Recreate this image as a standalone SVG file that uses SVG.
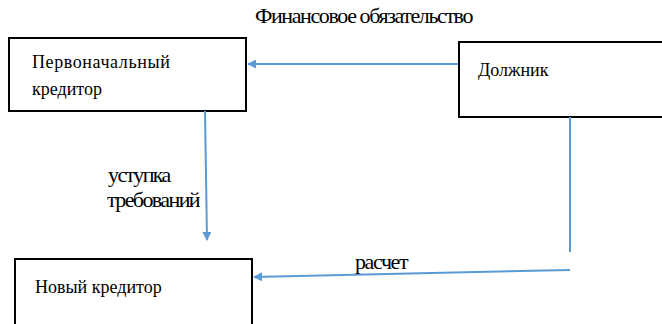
<svg xmlns="http://www.w3.org/2000/svg" width="662" height="324" viewBox="0 0 662 324">
<style>
.box{fill:#fff;stroke:#000;stroke-width:2}
.c{stroke:#5b9bd5;stroke-width:2;fill:none}
</style>
<defs>
<marker id="ah" viewBox="0 0 10 10" refX="9" refY="5" markerWidth="4.5" markerHeight="4.5" orient="auto" markerUnits="strokeWidth">
<path d="M0,0 L10,5 L0,10 Z" fill="#5b9bd5"/>
</marker>
</defs>
<rect width="662" height="324" fill="#fff"/>
<g id="n1">
<rect class="box" x="9" y="38" width="237" height="73"/>
<text x="32" y="68" font-family="Liberation Serif" font-size="18" letter-spacing="0.6">Первоначальный</text>
<text x="32" y="95" font-family="Liberation Serif" font-size="18">кредитор</text>
</g>
<g id="n2">
<rect class="box" x="459" y="42" width="210" height="75"/>
<text x="478" y="76" font-family="Liberation Serif" font-size="18">Должник</text>
</g>
<g id="n3">
<rect class="box" x="15" y="259" width="237" height="70"/>
<text x="35" y="293" font-family="Liberation Serif" font-size="18">Новый кредитор</text>
</g>
<g id="connectors">
<line class="c" x1="458" y1="64" x2="248" y2="64" marker-end="url(#ah)"/>
<line class="c" x1="205" y1="111" x2="207" y2="240" marker-end="url(#ah)"/>
<line class="c" x1="570" y1="117" x2="570" y2="252"/>
<line class="c" x1="570" y1="270" x2="254" y2="277" marker-end="url(#ah)"/>
</g>
<g id="labels">
<text x="255" y="23" font-family="Liberation Serif" font-size="22" letter-spacing="-1.4">Финансовое обязательство</text>
<text x="108" y="182" font-family="Liberation Serif" font-size="22" letter-spacing="-1.6">уступка</text>
<text x="107" y="207" font-family="Liberation Serif" font-size="22" letter-spacing="-1.6">требований</text>
<text x="355" y="269" font-family="Liberation Serif" font-size="22" letter-spacing="-1.4">расчет</text>
</g>
</svg>
